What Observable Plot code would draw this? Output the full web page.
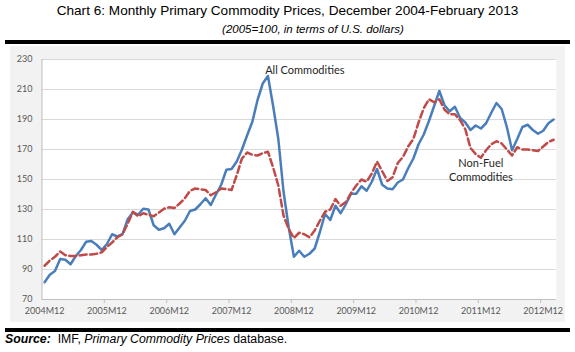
<!DOCTYPE html>
<html>
<head>
<meta charset="utf-8">
<script src="https://cdn.jsdelivr.net/npm/d3@7"></script>
<script src="https://cdn.jsdelivr.net/npm/@observablehq/plot@0.6"></script>
<style>
  html, body { margin: 0; padding: 0; background: #ffffff; }
  #wrap { position: relative; width: 575px; height: 352px; font-family: "Liberation Sans", Arial, sans-serif; color: #000; }
  .abs { position: absolute; }
  #title { top: 3px; left: 0; width: 575px; text-align: center; font-size: 13.6px; line-height: 15px; white-space: nowrap; }
  #subtitle { top: 22px; left: 213px; width: 200px; text-align: center; font-size: 11.5px; line-height: 14px; font-style: italic; white-space: nowrap; }
  .rule { background: #000; left: 5px; width: 565px; }
  #chart { left: 10px; top: 46px; }
  #source { left: 5px; top: 332px; font-size: 12.3px; line-height: 14px; white-space: nowrap; }
</style>
</head>
<body>
<div id="wrap">
  <div id="title" class="abs">Chart 6: Monthly Primary Commodity Prices, December 2004-February 2013</div>
  <div id="subtitle" class="abs">(2005=100, in terms of U.S. dollars)</div>
  <div class="abs rule" style="top:40px;height:3.5px;"></div>
  <div id="chart" class="abs"></div>
  <div class="abs rule" style="top:327.5px;height:4px;"></div>
  <div id="source" class="abs"><b><i>Source:</i></b>&nbsp; IMF, <i>Primary Commodity Prices</i> database.</div>
</div>
<script>
// Monthly index values, 2004M12 ... 2013M2 (2005 = 100)
const allCommodities = [
  81.5, 86.5, 89, 97, 96.5, 93.5, 99, 103, 108.5, 109, 106.5, 103,
  107, 113.5, 112, 113.5, 123.5, 128, 126.5, 130.5, 130, 119.5, 116.5, 117.5,
  120.5, 113.5, 118, 122.5, 129, 130, 133.5, 137.5, 133, 140, 146.5, 156.5,
  157, 162, 170, 179.5, 188.5, 203, 214, 219, 199, 177, 142, 118,
  98.5, 102.5, 98.5, 100.5, 104, 115, 127, 123, 132.5, 127.5, 133.5, 140.5,
  140.5, 145.5, 142.5, 148.5, 157, 146.5, 144, 143.5, 148, 150, 157.5, 164,
  173.5, 180, 189, 199, 209, 199.5, 195.5, 198.5, 191, 188, 183, 186,
  184, 187.5, 194.5, 201, 197, 185, 169.5, 177, 185, 186.5, 183, 180.5,
  182.5, 187.5, 190
];
const nonFuelCommodities = [
  92.5, 96, 98.5, 102, 99.5, 99, 99, 99.5, 100, 100, 100.5, 101.5,
  105, 108, 111.5, 113.5, 120.5, 128.5, 125.5, 127.5, 126.5, 125.5, 128, 130.5,
  131.5, 131, 134, 137.5, 142.5, 144, 143.5, 143, 139.5, 141.5, 144, 143.5,
  143, 153, 164, 168, 166.5, 166, 167.5, 168.5, 158, 146, 126, 117,
  111, 114.5, 113.5, 111.5, 116, 122.5, 128.5, 130, 137, 132.5, 135, 141,
  146, 150, 148.5, 154, 162, 155.5, 149, 151.5, 161, 165, 172, 177,
  188, 197.5, 203.5, 201.5, 203.5, 196.5, 193.5, 193.5, 189.5, 183.5, 171, 167,
  164.5, 169.5, 173.5, 175.5, 174, 170, 166, 171.5, 170, 170, 169.5, 169,
  172, 175, 176.5
];
const xTickLabels = ["2004M12", "2005M12", "2006M12", "2007M12", "2008M12", "2009M12", "2010M12", "2011M12", "2012M12"];
const yTicks = [70, 90, 110, 130, 150, 170, 190, 210, 230];
const annotationTexts = ["All Commodities", "Non-Fuel\nCommodities"];
const annotationMonths = [50.1, 84];
const annotationValues = [223.2, 156.5];

const n = allCommodities.length;
const yMin = yTicks[0], yMax = yTicks[yTicks.length - 1];
const labelIdx = xTickLabels.map((_, k) => k * 12);
const boundaries = labelIdx.slice(1).map(i => i - 0.5);
const rowsAll = allCommodities.map((v, i) => ({i, v}));
const rowsNF = nonFuelCommodities.map((v, i) => ({i, v}));
const notes = annotationTexts.map((t, k) => ({t, i: annotationMonths[k], v: annotationValues[k]}));

const chart = Plot.plot({
  width: 555,
  height: 276,
  marginLeft: 31.5,
  marginRight: 9.3,
  marginTop: 13,
  marginBottom: 23,
  style: {background: "#f2f2f2", fontFamily: "Lato, 'Open Sans', sans-serif", fontSize: "9px", color: "#595959", overflow: "visible"},
  x: {domain: [-0.5, n - 0.5], ticks: labelIdx, tickFormat: i => xTickLabels[Math.round(i / 12)], tickSize: 0, tickPadding: 8, label: null},
  y: {domain: [yMin, yMax], ticks: yTicks, tickSize: 0, tickPadding: 9.5, label: null},
  marks: [
    Plot.frame({fill: "white", stroke: "none"}),
    Plot.ruleY(yTicks.slice(1), {stroke: "#d9d9d9", strokeWidth: 1}),
    Plot.ruleY([yMin], {stroke: "#bfbfbf", strokeWidth: 1}),
    Plot.ruleX([-0.5], {stroke: "#bfbfbf", strokeWidth: 1}),
    Plot.ruleX(boundaries, {x: d => d, y1: () => yMin, y2: () => yMin, insetBottom: -4, stroke: "#bfbfbf"}),
    Plot.line(rowsAll, {x: "i", y: "v", stroke: "#4A7EBB", strokeWidth: 2.5, strokeLinejoin: "round"}),
    Plot.line(rowsNF, {x: "i", y: "v", stroke: "#BE4B48", strokeWidth: 2.5, strokeDasharray: "7,3.5"}),
    Plot.text(notes, {x: "i", y: "v", text: "t", fontSize: 11, fill: "#262626", lineHeight: 1.2, fontFamily: "Lato, 'Open Sans', sans-serif"})
  ]
});
document.getElementById("chart").appendChild(chart);
</script>
</body>
</html>
